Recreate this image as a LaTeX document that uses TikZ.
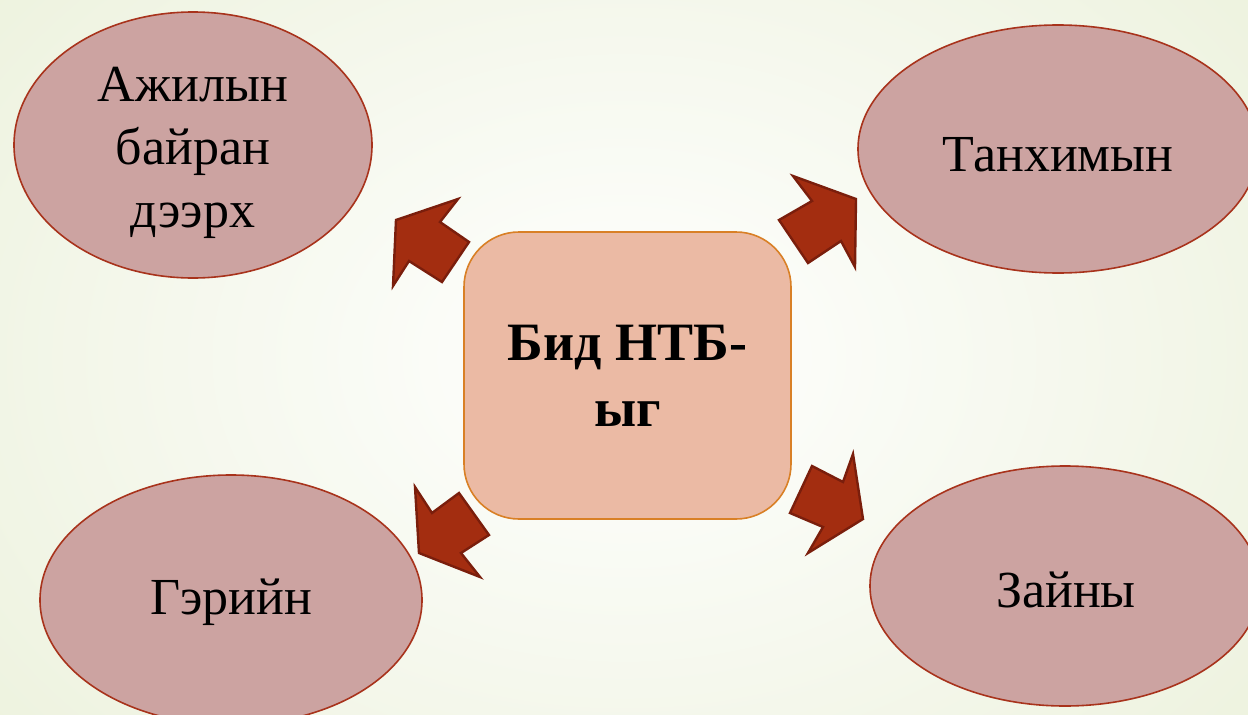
\documentclass[tikz,border=0pt]{standalone}
\usepackage{fontspec}
\setmainfont{Liberation Serif}
\usetikzlibrary{shapes.geometric}
\definecolor{bgout}{HTML}{EDF2DE}
\definecolor{ellfill}{HTML}{CCA3A1}
\definecolor{elldraw}{HTML}{A8331C}
\definecolor{boxfill}{HTML}{EBBAA4}
\definecolor{boxdraw}{HTML}{D98026}
\definecolor{arrfill}{HTML}{A32D10}
\definecolor{arrdraw}{HTML}{7A1E0C}
\tikzset{
  oval/.style={ellipse, draw=elldraw, fill=ellfill, line width=1.6pt, inner sep=0pt},
  ovaltext/.style={inner sep=0pt, align=center, font=\fontsize{52}{63}\selectfont},
  centerbox/.style={rectangle, rounded corners=55pt, draw=boxdraw, fill=boxfill, line width=1.6pt,
    minimum width=327pt, minimum height=287pt, align=center,
    font=\fontsize{54}{66}\selectfont\bfseries},
  blockarrow/.style={fill=arrfill, draw=arrdraw, line width=2.4pt, line join=miter}
}
\begin{document}
\begin{tikzpicture}[x=1pt,y=-1pt]
\useasboundingbox (0,0) rectangle (1248,715);
\clip (0,0) rectangle (1248,715);
\shade[inner color=white, outer color=bgout] (-200,-250) rectangle (1448,965);

\node[oval, minimum width=358pt, minimum height=266pt] (work) at (193,145) {};
\node[oval, minimum width=400pt, minimum height=248pt] (hall) at (1058,149) {};
\node[oval, minimum width=382pt, minimum height=250pt] (home) at (231,600) {};
\node[oval, minimum width=390pt, minimum height=240pt] (remote) at (1065,586) {};

\node[ovaltext] (worktext) at (193,153) {Ажилын\\байран\\дээрх};
\node[ovaltext] (halltext) at (1058,155) {Танхимын};
\node[ovaltext] (hometext) at (231,602) {Гэрийн};
\node[ovaltext] (remotetext) at (1066,590) {Зайны};

\node[centerbox] (center) at (627.5,375.5) {Бид НТБ-\\ыг};

% top-left arrow
\draw[blockarrow] (458,199) -- (396,220) -- (393,286) -- (409,261) -- (442,282) -- (469,242) -- (440,222) -- cycle;
% top-right arrow
\draw[blockarrow] (793,176) -- (856,199) -- (855,267) -- (841,241) -- (808,263) -- (779,220) -- (812,201) -- cycle;
% bottom-left arrow
\draw[blockarrow] (415,487) -- (432,513) -- (459,493) -- (489,535) -- (461,553) -- (480,577) -- (419,553) -- cycle;
% bottom-right arrow
\draw[blockarrow] (853,454) -- (863,519) -- (808,553) -- (823,527) -- (790,513) -- (812,466) -- (843,482) -- cycle;
\end{tikzpicture}
\end{document}
